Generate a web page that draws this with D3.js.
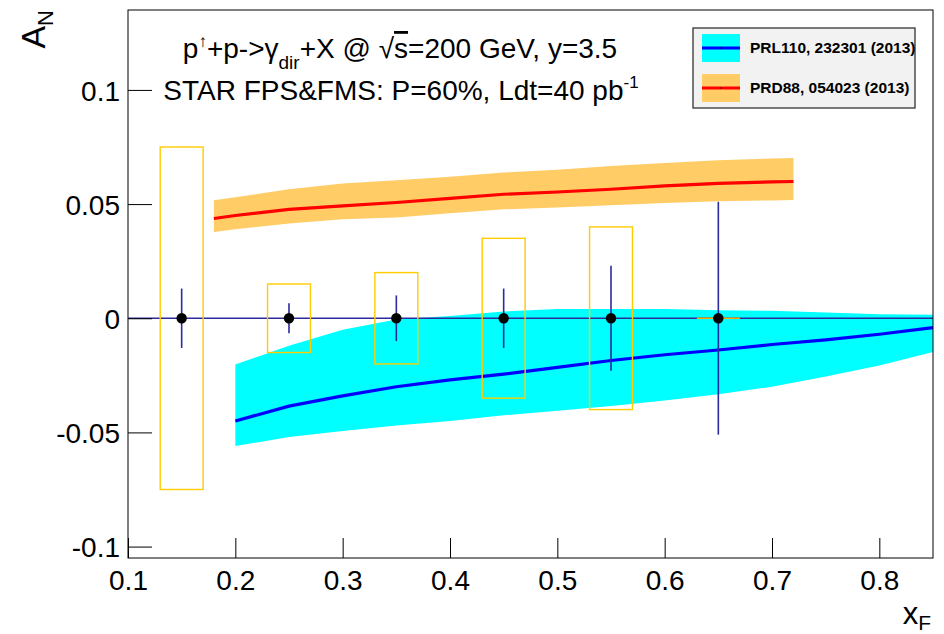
<!DOCTYPE html>
<html>
<head>
<meta charset="utf-8">
<script src="https://cdn.jsdelivr.net/npm/d3@7"></script>
<style>
  html, body { margin: 0; padding: 0; background: #fff; }
  svg { display: block; }
  text { font-family: "Liberation Sans", Arial, Helvetica, sans-serif; fill: #000; }
</style>
</head>
<body>
<svg id="chart" width="944" height="634"></svg>
<script>
// ---------------- data ----------------
const xTickValues = [0.1, 0.2, 0.3, 0.4, 0.5, 0.6, 0.7, 0.8];
const xTickLabels = ["0.1", "0.2", "0.3", "0.4", "0.5", "0.6", "0.7", "0.8"];
const yTickValues = [-0.1, -0.05, 0, 0.05, 0.1];
const yTickLabels = ["-0.1", "-0.05", "0", "0.05", "0.1"];

// projected data points (STAR FPS&FMS)
const pointX   = [0.15, 0.25, 0.35, 0.45, 0.55, 0.65];
const pointY   = [0, 0, 0, 0, 0, 0];
const statErr  = [0.013, 0.0066, 0.010, 0.013, 0.023, 0.051];
const sysErr   = [0.075, 0.015, 0.020, 0.035, 0.040, 0.0];
const sysHalfW = [0.02, 0.02, 0.02, 0.02, 0.02, 0.02];

// PRL110, 232301 (2013) - cyan band, blue line
const prlX     = [0.20, 0.25, 0.30, 0.35, 0.40, 0.45, 0.50, 0.55, 0.60, 0.65, 0.70, 0.75, 0.80, 0.85];
const prlMid   = [-0.045, -0.0385, -0.034, -0.030, -0.027, -0.0245, -0.0215, -0.0185, -0.016, -0.0139, -0.0115, -0.0095, -0.007, -0.0041];
const prlUp    = [-0.0203, -0.012, -0.005, -0.0005, 0.001, 0.003, 0.004, 0.004, 0.004, 0.0035, 0.0033, 0.0025, 0.0018, 0.0015];
const prlLow   = [-0.056, -0.052, -0.0494, -0.047, -0.045, -0.0425, -0.0405, -0.0384, -0.036, -0.0333, -0.030, -0.0255, -0.0207, -0.0148];

// PRD88, 054023 (2013) - orange band, red line
const prdX     = [0.18, 0.20, 0.25, 0.30, 0.35, 0.40, 0.45, 0.50, 0.55, 0.60, 0.65, 0.70, 0.72];
const prdMid   = [0.0437, 0.0450, 0.0477, 0.0492, 0.0507, 0.0525, 0.0543, 0.0553, 0.0565, 0.0580, 0.0591, 0.0597, 0.0599];
const prdUp    = [0.0517, 0.0530, 0.0565, 0.0590, 0.0604, 0.0620, 0.0638, 0.0650, 0.0667, 0.0680, 0.0692, 0.0700, 0.0702];
const prdLow   = [0.0378, 0.0390, 0.0415, 0.0434, 0.0441, 0.0460, 0.0477, 0.0485, 0.0495, 0.0505, 0.0512, 0.0516, 0.0518];

const legendLabels = ["PRL110, 232301 (2013)", "PRD88, 054023 (2013)"];

// ---------------- layout ----------------
const svg = d3.select("#chart");
const plot = { left: 128, right: 933, top: 10, bottom: 558 };

const x = d3.scaleLinear().domain([0.1, 0.85]).range([plot.left, plot.right]);
const y = d3.scaleLinear().domain([-0.105, 0.135]).range([plot.bottom, plot.top]);

svg.append("defs").append("clipPath").attr("id", "clip")
  .append("rect").attr("x", plot.left).attr("y", plot.top)
  .attr("width", plot.right - plot.left).attr("height", plot.bottom - plot.top);

const g = svg.append("g").attr("clip-path", "url(#clip)");

function band(xs, lo, hi) {
  const p = xs.map((d, i) => ({ x: d, lo: lo[i], hi: hi[i] }));
  return d3.area().x(d => x(d.x)).y0(d => y(d.lo)).y1(d => y(d.hi))(p);
}
function curve(xs, ys) {
  return d3.line().x(d => x(d[0])).y(d => y(d[1]))(xs.map((d, i) => [d, ys[i]]));
}

g.append("path").attr("d", band(prlX, prlLow, prlUp)).attr("fill", "#00ffff");
g.append("path").attr("d", band(prdX, prdLow, prdUp)).attr("fill", "#ffcc66");
g.append("path").attr("d", curve(prlX, prlMid)).attr("fill", "none")
  .attr("stroke", "#0000ff").attr("stroke-width", 3.2);
g.append("path").attr("d", curve(prdX, prdMid)).attr("fill", "none")
  .attr("stroke", "#ff0000").attr("stroke-width", 3.2);

// zero line
g.append("line").attr("x1", plot.left).attr("x2", plot.right)
  .attr("y1", y(0)).attr("y2", y(0))
  .attr("stroke", "#2b2b9e").attr("stroke-width", 1.5);

// systematic boxes
const pts = pointX.map((d, i) => ({ x: d, y: pointY[i], se: statErr[i], sy: sysErr[i], hw: sysHalfW[i] }));
g.selectAll("rect.sys").data(pts.filter(d => d.sy > 0)).enter().append("rect")
  .attr("class", "sys")
  .attr("x", d => x(d.x - d.hw))
  .attr("width", d => x(d.x + d.hw) - x(d.x - d.hw))
  .attr("y", d => y(d.y + d.sy))
  .attr("height", d => y(d.y - d.sy) - y(d.y + d.sy))
  .attr("fill", "none")
  .attr("stroke", "#ffcc00")
  .attr("stroke-width", 1.4);
g.selectAll("line.sys0").data(pts.filter(d => d.sy === 0)).enter().append("line")
  .attr("x1", d => x(d.x - d.hw)).attr("x2", d => x(d.x + d.hw))
  .attr("y1", d => y(d.y)).attr("y2", d => y(d.y))
  .attr("stroke", "#ffaa00").attr("stroke-width", 1.6);

// stat errors
g.selectAll("line.stat").data(pts).enter().append("line")
  .attr("x1", d => x(d.x)).attr("x2", d => x(d.x))
  .attr("y1", d => y(d.y + d.se)).attr("y2", d => y(d.y - d.se))
  .attr("stroke", "#2b2b9e").attr("stroke-width", 1.6);

// markers
g.selectAll("circle.pt").data(pts).enter().append("circle")
  .attr("cx", d => x(d.x)).attr("cy", d => y(d.y)).attr("r", 5.2).attr("fill", "#000");

// frame
svg.append("rect").attr("x", plot.left).attr("y", plot.top)
  .attr("width", plot.right - plot.left).attr("height", plot.bottom - plot.top)
  .attr("fill", "none").attr("stroke", "#000").attr("stroke-width", 1);

// axes (ticks drawn inward, ROOT style)
const xAxis = d3.axisBottom(x).tickValues(xTickValues).tickSize(-20).tickPadding(12)
  .tickFormat((d, i) => xTickLabels[i]);
const xg = svg.append("g").attr("transform", `translate(0,${plot.bottom})`).call(xAxis);
xg.select(".domain").remove();
xg.selectAll("line").attr("stroke", "#000");
xg.selectAll("text").attr("font-size", 28).attr("dy", "0.71em")
  .attr("font-family", "Liberation Sans, Arial, sans-serif").attr("fill", "#000");

const yAxis = d3.axisLeft(y).tickValues(yTickValues).tickSize(-24).tickPadding(8)
  .tickFormat((d, i) => yTickLabels[i]);
const yg = svg.append("g").attr("transform", `translate(${plot.left},0)`).call(yAxis);
yg.select(".domain").remove();
yg.selectAll("line").attr("stroke", "#000");
yg.selectAll("text").attr("font-size", 28).attr("dy", "0.36em")
  .attr("font-family", "Liberation Sans, Arial, sans-serif").attr("fill", "#000");

// axis titles
const xt = svg.append("text").attr("x", 931).attr("y", 624).attr("text-anchor", "end")
  .attr("font-size", 31);
xt.append("tspan").text("x");
xt.append("tspan").attr("font-size", 21).attr("dy", 6).text("F");

const yt = svg.append("text").attr("transform", "translate(45,10) rotate(-90)")
  .attr("text-anchor", "end").attr("font-size", 34);
yt.append("tspan").text("A");
yt.append("tspan").attr("font-size", 22).attr("dy", 8).text("N");

// in-plot text
const t1 = svg.append("text").attr("x", 400).attr("y", 58).attr("text-anchor", "middle")
  .attr("font-size", 28);
t1.append("tspan").text("p");
t1.append("tspan").attr("font-size", 17).attr("dy", -11).text("↑");
t1.append("tspan").attr("dy", 11).text("+p->γ");
t1.append("tspan").attr("font-size", 19).attr("dy", 11).text("dir");
t1.append("tspan").attr("dy", -11).text("+X @ √");
t1.append("tspan").attr("text-decoration", "overline").text("s");
t1.append("tspan").text("=200 GeV, y=3.5");

const t2 = svg.append("text").attr("x", 401).attr("y", 100).attr("text-anchor", "middle")
  .attr("font-size", 28);
t2.append("tspan").text("STAR FPS&FMS: P=60%, Ldt=40 pb");
t2.append("tspan").attr("font-size", 17).attr("dy", -12).text("-1");

// legend
const lg = svg.append("g");
lg.append("rect").attr("x", 693).attr("y", 28).attr("width", 222).attr("height", 80)
  .attr("fill", "#f2f2f2").attr("stroke", "#222").attr("stroke-width", 1.2);
const legendFill = ["#00ffff", "#ffcc66"];
const legendLine = ["#0000ff", "#ff0000"];
legendLabels.forEach((lab, i) => {
  const cy = 48 + i * 40;
  lg.append("rect").attr("x", 702).attr("y", cy - 14).attr("width", 38).attr("height", 28)
    .attr("fill", legendFill[i]);
  lg.append("line").attr("x1", 702).attr("x2", 740).attr("y1", cy).attr("y2", cy)
    .attr("stroke", legendLine[i]).attr("stroke-width", 3);
  lg.append("circle").attr("cx", 721).attr("cy", cy).attr("r", 0.8).attr("fill", "#000");
  lg.append("text").attr("x", 750).attr("y", cy + 5).attr("font-size", 15.5)
    .attr("font-weight", "bold").text(lab);
});
</script>
</body>
</html>
